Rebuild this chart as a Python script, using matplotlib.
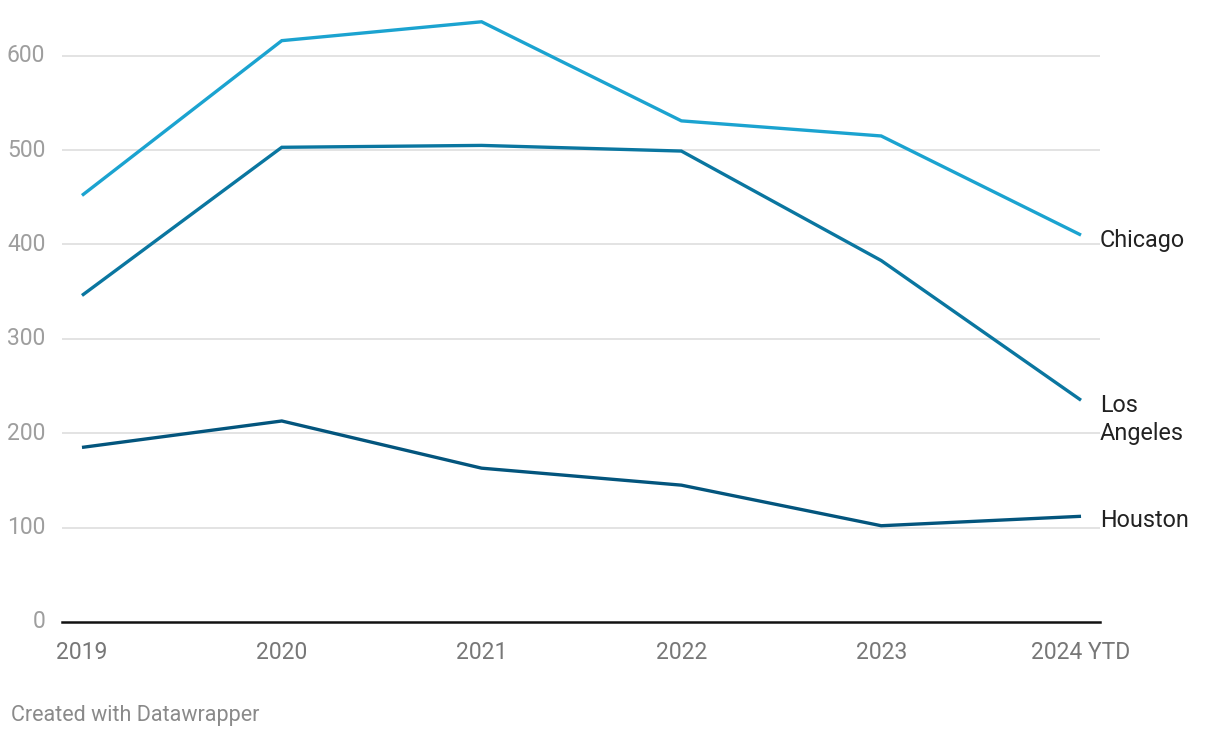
import matplotlib
matplotlib.use("Agg")
import matplotlib.pyplot as plt

years = ["2019", "2020", "2021", "2022", "2023", "2024 YTD"]
chicago = [452, 616, 636, 531, 515, 410]
los_angeles = [346, 503, 505, 499, 383, 235]
houston = [185, 213, 163, 145, 102, 112]
yticks = [0, 100, 200, 300, 400, 500, 600]

series = [
    ("Chicago", chicago, "#1ba3d0", -4),
    ("Los\nAngeles", los_angeles, "#0a76a0", -14),
    ("Houston", houston, "#03557d", -3),
]

plt.rcParams['font.family'] = ['Roboto', 'DejaVu Sans']

fig = plt.figure(figsize=(12.2, 7.38), dpi=100)
ax = fig.add_axes([62/1220, 1 - 622/738, (1100-62)/1220, (622-18)/738])
x = list(range(len(years)))

for yv in yticks[1:]:
    ax.axhline(yv, color="#e3e3e3", lw=1.4, zorder=1)
ax.axhline(0, color="#111111", lw=1.8, zorder=3, clip_on=False)

for name, vals, col, dy in series:
    ax.plot(x, vals, color=col, lw=2.4, zorder=4, solid_capstyle='butt', solid_joinstyle='miter')
    ax.annotate(name, xy=(1, vals[-1]), xycoords=('axes fraction', 'data'),
                xytext=(0, dy), textcoords='offset points',
                ha='left', va='center', fontsize=16.8, color="#222222",
                linespacing=1.25, annotation_clip=False)

ax.set_xlim(-0.1, 5.095)
ax.set_ylim(0, 640)
for s in ax.spines.values():
    s.set_visible(False)
ax.set_yticks(yticks)
ax.set_yticklabels([str(v) for v in yticks])
ax.tick_params(axis='y', length=0, pad=12, labelsize=16.5, labelcolor="#9e9e9e")
for lab in ax.get_yticklabels():
    lab.set_verticalalignment('center')
ax.set_xticks(x)
ax.set_xticklabels(years)
ax.tick_params(axis='x', length=0, pad=14, labelsize=16.5, labelcolor="#777777")

fig.text(11/1220, 1 - 715/738, "Created with Datawrapper", fontsize=15.5, color="#8a8a8a",
         ha='left', va='center')

fig.savefig("out.png", dpi=100, facecolor="white")
